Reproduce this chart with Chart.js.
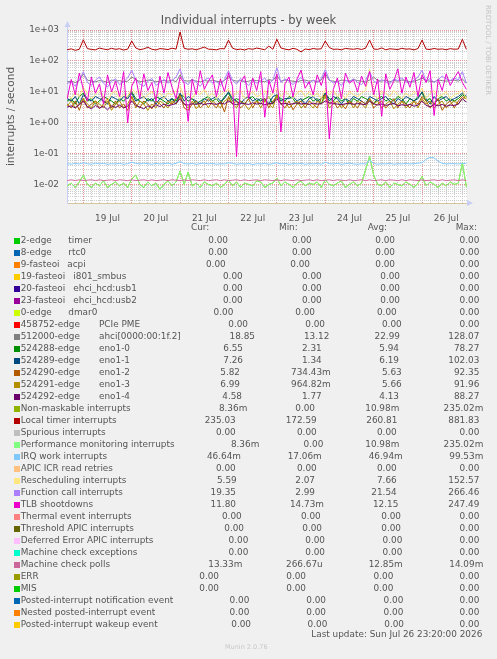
<!DOCTYPE html>
<html><head><meta charset="utf-8">
<script src="https://cdn.jsdelivr.net/npm/chart.js@4.4.1/dist/chart.umd.min.js"></script>
<style>
html,body{margin:0;padding:0;background:#f0f0f0;}
#wrap{position:relative;width:497px;height:659px;overflow:hidden;font-family:"DejaVu Sans",sans-serif;color:#555;}
#c{position:absolute;left:0;top:0;}
.t{position:absolute;white-space:pre;font-size:8.9px;line-height:12px;}
.sw{position:absolute;width:6px;height:6px;}
</style></head><body><div id="wrap"><canvas id="c" width="497" height="230"></canvas></div>
<script>
// ---------- time axis (hours relative to 19 Jul 00:00), one sample per 2 hours ----------
const sampleHours = [];
for (let i = 0; i < 100; i++) sampleHours.push(-8 + 2 * i);
const dayLabels = ["19 Jul","20 Jul","21 Jul","22 Jul","23 Jul","24 Jul","25 Jul","26 Jul"];
const yDecades = [0.001,0.01,0.1,1,10,100,1000];
const yMin = 0.0025, yMax = 1000;

// ---------- series values (interrupts / second) ----------
const localTimer = [230,245,220,238,480,250,235,228,260,242,231,255,
 236,248,225,240,440,262,230,245,275,238,226,250,
 242,233,258,240,860,255,238,246,229,252,280,240,
 236,228,250,244,470,258,232,241,226,249,237,260,
 245,230,300,238,500,262,240,228,255,236,195,243,
 231,252,239,246,440,270,236,241,229,253,244,238,
 250,234,258,470,242,236,262,229,247,240,233,256,
 239,245,228,251,470,240,235,252,237,244,230,249,
 238,243,500,236];
const ahci = [21,22,20,23,38,24,22,21,23,22,20,24,
 22,23,21,22,30,25,21,22,24,23,21,22,
 23,22,24,21,35,23,22,24,22,21,23,22,
 24,22,21,23,32,24,22,23,21,22,24,23,
 22,21,25,23,33,22,24,23,22,21,23,24,
 22,23,21,24,40,23,22,21,24,23,22,25,
 23,22,21,24,30,23,22,24,21,23,22,24,
 23,21,22,24,28,23,22,21,24,23,22,23,
 24,22,26,19];
const functionCall = [18,22,15,25,45,20,16,24,30,19,14,22,
 26,17,21,28,50,24,18,15,22,27,16,20,
 25,19,23,30,55,21,17,26,20,15,24,28,
 19,22,16,25,48,23,18,27,21,16,24,19,
 22,28,18,24,60,20,26,22,17,23,29,21,
 18,24,20,27,52,25,19,22,16,24,21,26,
 20,17,23,45,22,19,25,21,18,26,23,28,
 21,19,24,30,50,22,27,20,25,32,26,23,
 28,24,45,19];
const tlb = [6,25,8,40,12,5,30,9,18,4,35,10,
 22,7,45,1.0,15,28,6,38,11,20,5,32,
 9,42,14,6,30,19,1.1,25,8,48,12,22,
 35,7,26,10,40,15,0.08,20,33,6,28,11,
 45,1.5,24,9,38,0.5,18,30,7,26,50,13,
 21,8,35,16,42,0.3,12,28,6,40,19,24,
 10,32,15,45,8,26,1.6,38,12,22,55,9,
 30,14,42,7,35,20,48,1.7,25,11,38,16,
 28,45,20,12];
const rescheduling = [8,6,10,7,14,9,6,8,11,7,5,9,
 10,6,8,7,13,9,11,6,8,10,7,9,
 6,9,8,11,15,7,9,6,10,8,12,7,
 9,6,8,10,12,7,9,11,6,8,10,7,
 8,11,6,9,13,7,10,8,6,9,11,7,
 10,7,9,6,12,8,11,7,9,6,10,8,
 7,9,11,55,8,6,10,9,7,11,8,6,
 9,7,10,8,13,6,9,11,7,8,10,6,
 8,9,12,5.6];
const eno0 = [5,6,4,7,9,5,6,4,5,7,6,5,
 4,6,5,7,10,6,5,4,6,5,7,6,
 5,4,6,5,8,7,5,6,4,5,6,7,
 5,6,4,7,9,5,6,5,4,6,7,5,
 6,5,7,4,8,6,5,7,6,4,5,6,
 7,5,6,4,9,6,5,7,5,6,4,6,
 5,7,6,5,4,6,7,5,6,5,7,6,
 4,6,5,7,9,5,6,4,6,7,5,6,
 5,6,8,6.5];
const eno1 = [6,5,7,4,8,6,5,7,6,5,4,7,
 6,5,7,6,9,5,6,7,5,6,4,6,
 7,5,6,4,9,5,7,6,5,4,6,5,
 6,7,5,6,10,6,5,4,6,7,5,6,
 5,6,4,7,8,5,6,6,7,5,6,4,
 6,7,5,6,9,5,7,6,4,6,5,7,
 6,5,4,7,6,5,6,7,5,4,6,5,
 7,6,5,6,10,6,4,7,5,6,7,5,
 6,7,9,7.3];
const eno2 = [4,3,5,2.5,6,3,4,5,2.8,4,6,3,
 5,3,4,2.5,7,4,3,5,4,2.8,5,4,
 3,5,4,6,8,3,2.5,4,5,3,4,6,
 4,3,5,2.2,7,4,5,3,4,6,3,5,
 4,6,3,5,7,4,3,5,2.6,4,5,3,
 5,4,3,6,8,4,5,3,4,2.8,5,4,
 3,5,4,6,3,4,5,3,4,6,3,5,
 4,3,5,4,7,5,3,4,6,2.5,4,5,
 3,5,7,5.8];
const eno3 = [3.5,5,3,4,6,4,3,5,4,3,5,2.5,
 4,5,3,4,7,3,5,4,2.5,4,3,5,
 4,3,5,4,7,4,3,5,2.8,4,5,3,
 5,4,3,5,6,4,3,5,4,2.6,4,5,
 3,5,4,3,8,4,5,3,4,5,3,4,
 4,3,5,4,7,3,4,5,3,4,5,3,
 5,4,3,6,4,5,3,4,5,2.8,4,5,
 3,4,5,3,6,4,5,3,4,5,3,4,
 5,4,6,7];
const eno4 = [3.2,3.5,3,3.8,5,3.3,2.8,3.6,3,3.4,2.6,3.5,
 3.1,3.7,3,3.4,5,3.6,3.2,2.8,3.5,3.1,3.8,3.3,
 4,3.5,3.8,4.2,6,4,3.7,4.1,3.9,4.3,3.8,4.2,
 4.1,3.9,4.4,4,5,4.2,3.8,4.3,4.1,3.9,4.4,4,
 4.2,3.8,4.1,4.3,6,4,4.2,3.9,4.1,4.4,4,4.2,
 3.9,4.3,4,4.1,5,4.4,4.2,4,3.8,4.1,4.3,3.9,
 4.2,4,3.8,5,4.1,3.7,4,3.6,3.9,4.2,3.5,3.8,
 3.6,3.9,3.4,3.7,5,3.6,3.3,3.8,3.5,3.9,3.4,3.7,
 3.6,4,6,4.6];
const irqWork = [0.047,0.045,0.048,0.046,0.05,0.047,0.045,0.049,0.046,0.048,0.045,0.047,
 0.046,0.048,0.045,0.047,0.052,0.048,0.046,0.049,0.047,0.045,0.048,0.046,
 0.047,0.049,0.045,0.048,0.055,0.047,0.046,0.048,0.045,0.047,0.049,0.046,
 0.048,0.045,0.047,0.046,0.05,0.048,0.045,0.047,0.046,0.048,0.044,0.047,
 0.046,0.048,0.045,0.047,0.05,0.046,0.048,0.045,0.047,0.046,0.048,0.045,
 0.047,0.046,0.048,0.045,0.052,0.047,0.046,0.048,0.045,0.047,0.049,0.046,
 0.045,0.047,0.046,0.06,0.048,0.045,0.047,0.046,0.048,0.045,0.047,0.046,
 0.048,0.046,0.047,0.049,0.05,0.065,0.075,0.072,0.056,0.048,0.046,0.047,
 0.047,0.046,0.048,0.047];
const perfMonitoring = [0.009,0.011,0.008,0.012,0.02,0.01,0.008,0.011,0.009,0.013,0.008,0.01,
 0.012,0.009,0.011,0.008,0.015,0.02,0.01,0.008,0.012,0.009,0.011,0.007,
 0.01,0.013,0.009,0.012,0.027,0.01,0.025,0.009,0.011,0.008,0.012,0.01,
 0.009,0.011,0.008,0.01,0.014,0.009,0.012,0.008,0.011,0.01,0.009,0.013,
 0.012,0.008,0.01,0.011,0.016,0.009,0.012,0.01,0.008,0.011,0.013,0.009,
 0.011,0.01,0.012,0.008,0.014,0.01,0.009,0.011,0.013,0.008,0.01,0.012,
 0.009,0.011,0.03,0.08,0.02,0.01,0.009,0.012,0.008,0.011,0.01,0.009,
 0.012,0.01,0.008,0.011,0.018,0.009,0.012,0.01,0.008,0.011,0.009,0.012,
 0.01,0.011,0.05,0.0084];
const nonMaskable = perfMonitoring; // identical statistics in the legend
const machineCheckPolls = [0.0133,0.0141,0.0133,0.0141,0.0133,0.0137,0.0141,0.0133,0.0141,0.0133,0.0137,0.0141,
 0.0133,0.0141,0.0137,0.0133,0.0141,0.0133,0.0137,0.0141,0.0133,0.0141,0.0133,0.0137,
 0.0141,0.0133,0.0141,0.0137,0.0133,0.0141,0.0133,0.0141,0.0137,0.0133,0.0141,0.0133,
 0.0137,0.0141,0.0133,0.0141,0.0133,0.0137,0.0141,0.0133,0.0141,0.0133,0.0137,0.0141,
 0.0133,0.0141,0.0137,0.0133,0.0141,0.0133,0.0141,0.0137,0.0133,0.0141,0.0133,0.0137,
 0.0141,0.0133,0.0141,0.0133,0.0137,0.0141,0.0133,0.0141,0.0137,0.0133,0.0141,0.0133,
 0.0137,0.0141,0.0133,0.0141,0.0133,0.0137,0.0141,0.0133,0.0141,0.0137,0.0133,0.0141,
 0.0133,0.0141,0.0137,0.0133,0.0141,0.0133,0.0137,0.0141,0.0133,0.0141,0.0133,0.0137,
 0.0141,0.0133,0.0141,0.0133];
const zeroHours = [-8, 190];
const zeroValues = [0, 0];

// ---------- legend ----------
const seriesNames = [["2-edge","timer"],["8-edge","rtc0"],["9-fasteoi","acpi"],["19-fasteoi","i801_smbus"],
 ["20-fasteoi","ehci_hcd:usb1"],["23-fasteoi","ehci_hcd:usb2"],["0-edge","dmar0"],["458752-edge","PCIe PME"],
 ["512000-edge","ahci[0000:00:1f.2]"],["524288-edge","eno1-0"],["524289-edge","eno1-1"],["524290-edge","eno1-2"],
 ["524291-edge","eno1-3"],["524292-edge","eno1-4"],["Non-maskable interrupts"],["Local timer interrupts"],
 ["Spurious interrupts"],["Performance monitoring interrupts"],["IRQ work interrupts"],["APIC ICR read retries"],
 ["Rescheduling interrupts"],["Function call interrupts"],["TLB shootdowns"],["Thermal event interrupts"],
 ["Threshold APIC interrupts"],["Deferred Error APIC interrupts"],["Machine check exceptions"],["Machine check polls"],
 ["ERR"],["MIS"],["Posted-interrupt notification event"],["Nested posted-interrupt event"],["Posted-interrupt wakeup event"]];
const seriesData = [null,null,null,null,null,null,null,null,ahci,eno0,eno1,eno2,eno3,eno4,nonMaskable,localTimer,
 null,perfMonitoring,irqWork,null,rescheduling,functionCall,tlb,null,null,null,null,machineCheckPolls,null,null,null,null,null];
const curText = ["0.00","0.00","0.00","0.00","0.00","0.00","0.00","0.00","18.85","6.55","7.26","5.82","6.99","4.58","8.36m","235.03","0.00","8.36m","46.64m","0.00","5.59","19.35","11.80","0.00","0.00","0.00","0.00","13.33m","0.00","0.00","0.00","0.00","0.00"];
const minText = ["0.00","0.00","0.00","0.00","0.00","0.00","0.00","0.00","13.12","2.31","1.34","734.43m","964.82m","1.77","0.00","172.59","0.00","0.00","17.06m","0.00","2.07","2.99","14.73m","0.00","0.00","0.00","0.00","266.67u","0.00","0.00","0.00","0.00","0.00"];
const avgText = ["0.00","0.00","0.00","0.00","0.00","0.00","0.00","0.00","22.99","5.94","6.19","5.63","5.66","4.13","10.98m","260.81","0.00","10.98m","46.94m","0.00","7.66","21.54","12.15","0.00","0.00","0.00","0.00","12.85m","0.00","0.00","0.00","0.00","0.00"];
const maxText = ["0.00","0.00","0.00","0.00","0.00","0.00","0.00","0.00","128.07","78.27","102.03","92.35","91.96","88.27","235.02m","881.83","0.00","235.02m","99.53m","0.00","152.57","266.46","247.49","0.00","0.00","0.00","0.00","14.09m","0.00","0.00","0.00","0.00","0.00"];

// ---------- styles / layout (kept apart from the data) ----------
const palette = ["#00CC00","#0066B3","#FF8000","#FFCC00","#330099","#990099","#CCFF00","#FF0000","#808080","#008F00",
 "#00487D","#B35A00","#B38F00","#6B006B","#8FB300","#B30000","#BEBEBE","#80FF80","#80C9FF","#FFC080","#FFE680",
 "#AA80FF","#EE00CC","#FF8080","#666600","#FFBFFF","#00FFCC","#CC6699","#999900","#00CC00","#0066B3","#FF8000","#FFCC00"];
const subNameX = [68.3,68.3,67.3,73.3,73.3,73.3,68.3,99,99,99,99,99,99,99];
const curRight = [228,228,225.7,242.7,242.7,242.7,233.3,248,255,243,243,240,240,242,247.3,235.7,235.7,259.3,241,235.7,236.7,236,236,241.7,244,248.3,248.3,242.3,219,219,249.3,249.3,251];
const minRight = [311.7,311.7,310,321.7,321.7,321.7,315,325,329.3,321.7,321.7,330.7,330.7,321.7,315,316.7,316.7,323.3,321.7,316.7,315,315,324,320.7,322,325,325,322.7,306,306,326,326,327.3];
const avgRight = [395,395,395,400,400,400,396.7,401.7,400,399,399,401.7,401.7,399,399.3,397.3,396.7,399.3,402.7,396.7,396.7,396.7,398.3,401,401,402.3,402.3,402.7,393.3,393.3,403.3,403.3,404];
const maxRight = [479.3,479.3,479.3,479.3,479.3,479.3,479.3,479.3,479.3,479.3,479.3,479.3,479.3,479.3,483.3,479.3,479.3,483.3,483.3,479.3,479.3,479.3,479.3,479.3,479.3,479.3,479.3,483.3,479.3,479.3,479.3,479.3,479.3];
const FONT = "'DejaVu Sans', sans-serif";
const TEXT = '#555';

// ---------- datasets ----------
const datasets = seriesNames.map((n, i) => {
  const vals = seriesData[i];
  const pts = vals ? vals.map((v, k) => ({x: sampleHours[k], y: v})) : zeroHours.map((h, k) => ({x: h, y: zeroValues[k]}));
  return {label: n.join(' '), data: pts, borderColor: palette[i], backgroundColor: palette[i], borderWidth: 1, pointRadius: 0, order: -i, tension: 0};
});

const isDecade = v => yDecades.some(d => Math.abs(v - d) < d * 1e-6);
const xTicks = [];
for (let h = -8; h <= 190; h += 4) xTicks.push(h);

const decor = {
  id: 'decor',
  beforeDraw(c) { const {ctx, chartArea: a} = c; ctx.save(); ctx.fillStyle = '#ffffff'; ctx.fillRect(a.left, a.top, a.right - a.left, a.bottom - a.top); ctx.restore(); },
  afterDraw(c) {
    const {ctx, chartArea: a} = c; ctx.save();
    ctx.strokeStyle = '#c8cff4'; ctx.fillStyle = '#c8cff4'; ctx.lineWidth = 1;
    ctx.beginPath(); ctx.moveTo(a.left + 0.5, a.top); ctx.lineTo(a.left + 0.5, a.top - 4); ctx.stroke();
    ctx.beginPath(); ctx.moveTo(a.left - 2.5, a.top - 3); ctx.lineTo(a.left + 3.5, a.top - 3); ctx.lineTo(a.left + 0.5, a.top - 9); ctx.closePath(); ctx.fill();
    ctx.beginPath(); ctx.moveTo(a.right, a.bottom + 3); ctx.lineTo(a.right, a.bottom - 3); ctx.lineTo(a.right + 6, a.bottom); ctx.closePath(); ctx.fill();
    ctx.restore();
  }
};

new Chart(document.getElementById('c'), {
  type: 'line',
  data: {datasets},
  plugins: [decor],
  options: {
    responsive: false, animation: false, devicePixelRatio: 1,
    layout: {padding: {left: 0, right: 30, top: 30, bottom: 0}},
    plugins: {legend: {display: false}, tooltip: {enabled: false}, title: {display: false}},
    scales: {
      x: {
        type: 'linear', min: -8.1, max: 190.3,
        afterBuildTicks: s => { s.ticks = xTicks.map(v => ({value: v})); },
        afterFit: s => { s.height = 27; },
        ticks: {autoSkip: false, maxRotation: 0, padding: 10, color: TEXT, font: {family: FONT, size: 8.9},
          callback: v => { const k = (v - 12) / 24; return Number.isInteger(k) && dayLabels[k] ? dayLabels[k] : ''; }},
        grid: {drawTicks: false, lineWidth: 1, color: c => (c.tick && c.tick.value % 24 === 0) ? 'rgba(222,120,120,0.8)' : 'rgba(190,190,190,0.75)'},
        border: {display: true, color: '#d6c49a', dash: [1, 1]}
      },
      y: {
        type: 'logarithmic', min: yMin, max: yMax,
        afterBuildTicks: s => { const t = []; yDecades.forEach(d => { for (let m = 1; m <= 9; m++) { const v = d * m; if (v >= yMin && v <= yMax * 1.000001) t.push({value: v}); } }); s.ticks = t; },
        afterFit: s => { s.width = 67; },
        ticks: {autoSkip: false, padding: 8, color: TEXT, font: {family: FONT, size: 8.9},
          callback: v => { if (!isDecade(v)) return ''; const e = Math.round(Math.log10(v)); const a = Math.abs(e); return '1e' + (e < 0 ? '-' : '+') + (a < 10 ? '0' : '') + a; }},
        grid: {drawTicks: false, lineWidth: 1, color: c => (c.tick && isDecade(c.tick.value)) ? 'rgba(222,120,120,0.8)' : 'rgba(190,190,190,0.75)'},
        border: {display: true, color: '#c8cff4', dash: [1, 1]},
        title: {display: true, text: 'interrupts / second', color: TEXT, font: {family: FONT, size: 10.5}, padding: {top: 5, bottom: 0}}
      }
    }
  }
});

// ---------- HTML text: title, legend, footer ----------
const wrap = document.getElementById('wrap');
function txt(s, opt) {
  const e = document.createElement('span'); e.className = 't'; e.textContent = s;
  if (opt.left !== undefined) e.style.left = opt.left + 'px';
  if (opt.right !== undefined) e.style.right = (497 - opt.right) + 'px';
  if (opt.center !== undefined) { e.style.left = '0px'; e.style.width = '497px'; e.style.textAlign = 'center'; }
  e.style.top = opt.top + 'px';
  if (opt.size) { e.style.fontSize = opt.size + 'px'; e.style.lineHeight = Math.round(opt.size * 1.2) + 'px'; }
  if (opt.color) e.style.color = opt.color;
  wrap.appendChild(e); return e;
}
txt('Individual interrupts - by week', {center: true, top: 13.4, size: 11.5});
const side = txt('RRDTOOL / TOBI OETIKER', {left: 484, top: 5, size: 7, color: '#c4c4c4'});
side.style.writingMode = 'vertical-rl';

const rowY0 = 239.7, rowPitch = 12, textLift = 5.9;
txt('Cur:', {left: 191, top: 226.7 - textLift});
txt('Min:', {left: 279, top: 226.7 - textLift});
txt('Avg:', {left: 367.7, top: 226.7 - textLift});
txt('Max:', {left: 455.7, top: 226.7 - textLift});
seriesNames.forEach((n, i) => {
  const cy = rowY0 + rowPitch * i, top = cy - textLift;
  const sw = document.createElement('div'); sw.className = 'sw'; sw.style.left = '14px'; sw.style.top = (cy - 2) + 'px'; sw.style.background = palette[i]; wrap.appendChild(sw);
  txt(n[0], {left: 20.7, top});
  if (n[1]) txt(n[1], {left: subNameX[i], top});
  txt(curText[i], {right: curRight[i], top});
  txt(minText[i], {right: minRight[i], top});
  txt(avgText[i], {right: avgRight[i], top});
  txt(maxText[i], {right: maxRight[i], top});
});
txt('Last update: Sun Jul 26 23:20:00 2026', {right: 482.3, top: 634 - textLift});
txt('Munin 2.0.76', {left: 225, top: 643, size: 6.5, color: '#c8c8c8'});
</script></body></html>
